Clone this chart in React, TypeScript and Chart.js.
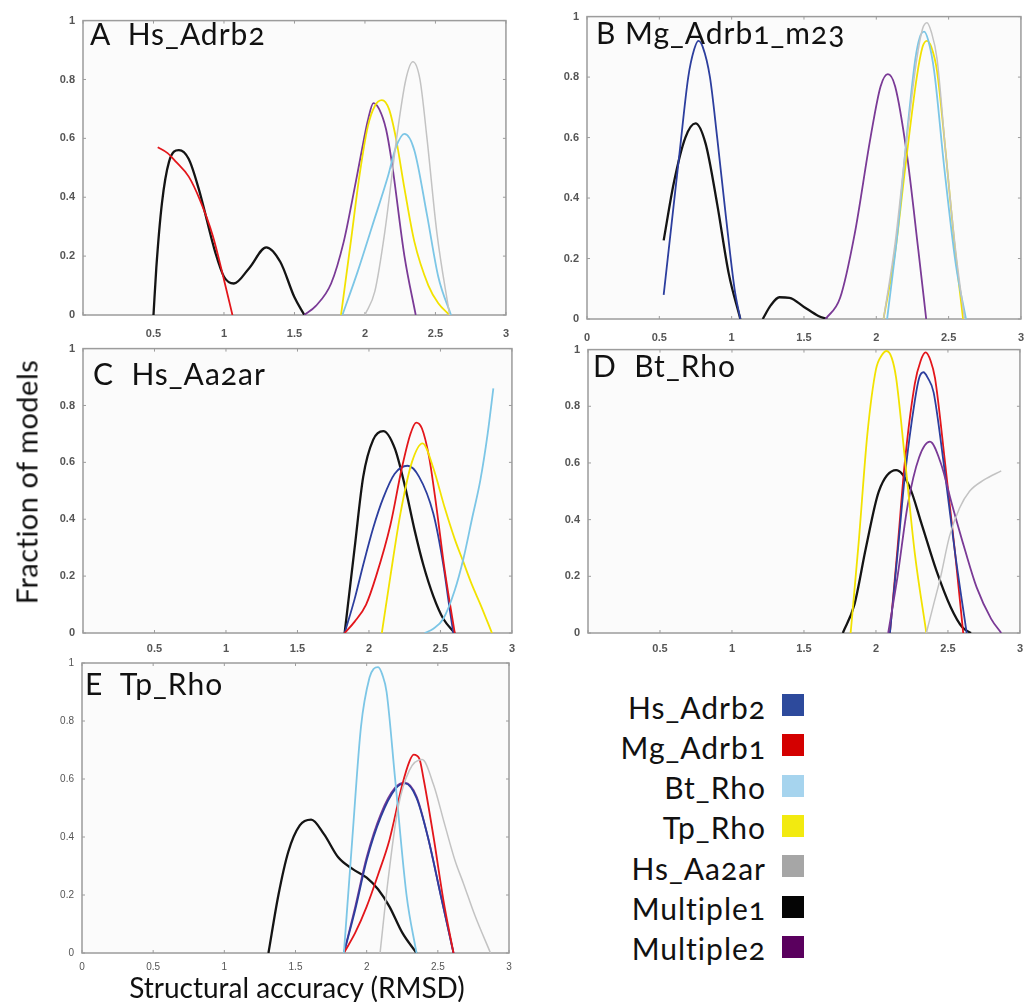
import React, { useEffect, useRef } from 'react';
import { Chart, registerables } from 'chart.js';
Chart.register(...registerables);

// ---------- axis ticks ----------
const X_TICKS = [0, 0.5, 1, 1.5, 2, 2.5, 3];
const Y_TICKS = [0, 0.2, 0.4, 0.6, 0.8, 1];

// ---------- series legend ----------
const SERIES_NAMES = ['Hs_Adrb2', 'Mg_Adrb1', 'Bt_Rho', 'Tp_Rho', 'Hs_Aa2ar', 'Multiple1', 'Multiple2'];
const LINE_COLORS = ['#2c3e9e', '#e3161b', '#7cc6e6', '#f2e200', '#c3c3c3', '#141414', '#7a3a96'];
const LEGEND_COLORS = ['#2d4a9c', '#d40000', '#a6d4ee', '#f2ea10', '#a6a6a6', '#050505', '#5a005e'];

// ---------- Panel A: Hs_Adrb2 ----------
const A_RED_X = [0.53, 0.6, 0.66, 0.75, 0.83, 0.92, 1.0, 1.06];
const A_RED_Y = [0.57, 0.55, 0.52, 0.47, 0.39, 0.27, 0.12, 0];
const A_BLACK_X = [0.5, 0.52, 0.56, 0.61, 0.68, 0.75, 0.82, 0.94, 1.0, 1.07, 1.18, 1.3, 1.4, 1.5, 1.57];
const A_BLACK_Y = [0, 0.16, 0.38, 0.52, 0.56, 0.53, 0.43, 0.21, 0.13, 0.107, 0.16, 0.23, 0.18, 0.06, 0];
const A_PURPLE_X = [1.57, 1.65, 1.76, 1.85, 1.91, 1.97, 2.02, 2.06, 2.1, 2.15, 2.19, 2.28, 2.36];
const A_PURPLE_Y = [0, 0.03, 0.107, 0.25, 0.39, 0.54, 0.66, 0.72, 0.7, 0.63, 0.52, 0.2, 0];
const A_YELLOW_X = [1.83, 1.9, 1.96, 2.02, 2.07, 2.12, 2.17, 2.22, 2.28, 2.35, 2.45, 2.52, 2.6];
const A_YELLOW_Y = [0, 0.25, 0.47, 0.64, 0.71, 0.73, 0.7, 0.6, 0.43, 0.25, 0.1, 0.04, 0];
const A_LBLUE_X = [1.84, 1.95, 2.05, 2.16, 2.22, 2.28, 2.35, 2.44, 2.52, 2.61];
const A_LBLUE_Y = [0, 0.15, 0.3, 0.466, 0.57, 0.615, 0.56, 0.34, 0.13, 0];
const A_GRAY_X = [2.0, 2.07, 2.14, 2.23, 2.29, 2.34, 2.39, 2.44, 2.51, 2.6];
const A_GRAY_Y = [0, 0.08, 0.28, 0.62, 0.8, 0.86, 0.8, 0.6, 0.28, 0];

// ---------- Panel B: Mg_Adrb1_m23 ----------
const B_BLUE_X = [0.53, 0.6, 0.64, 0.7, 0.74, 0.77, 0.8, 0.85, 0.9, 0.96, 1.02, 1.06];
const B_BLUE_Y = [0.08, 0.38, 0.55, 0.8, 0.89, 0.92, 0.9, 0.8, 0.6, 0.34, 0.1, 0];
const B_BLACK_X = [0.53, 0.6, 0.68, 0.75, 0.82, 0.9, 0.98, 1.06, 1.14, 1.215, 1.27, 1.33, 1.4, 1.5, 1.6, 1.66];
const B_BLACK_Y = [0.26, 0.45, 0.6, 0.647, 0.58, 0.38, 0.15, 0, null, 0, 0.045, 0.072, 0.07, 0.04, 0.01, 0];
const B_PURPLE_X = [1.65, 1.75, 1.85, 1.96, 2.03, 2.08, 2.13, 2.21, 2.29, 2.345];
const B_PURPLE_Y = [0, 0.07, 0.28, 0.6, 0.77, 0.81, 0.77, 0.55, 0.23, 0];
const B_GRAY_X = [2.05, 2.13, 2.2, 2.28, 2.32, 2.35, 2.38, 2.42, 2.48, 2.55, 2.61];
const B_GRAY_Y = [0, 0.25, 0.55, 0.86, 0.96, 0.98, 0.95, 0.86, 0.55, 0.22, 0];
const B_LBLUE_X = [2.075, 2.15, 2.22, 2.27, 2.3, 2.33, 2.36, 2.4, 2.47, 2.55, 2.62];
const B_LBLUE_Y = [0, 0.3, 0.65, 0.86, 0.93, 0.95, 0.92, 0.82, 0.5, 0.18, 0];
const B_YELLOW_X = [2.05, 2.13, 2.2, 2.28, 2.32, 2.35, 2.38, 2.42, 2.48, 2.54, 2.6];
const B_YELLOW_Y = [0, 0.22, 0.5, 0.8, 0.9, 0.92, 0.9, 0.82, 0.55, 0.25, 0];

// ---------- Panel C: Hs_Aa2ar ----------
const C_BLACK_X = [1.83, 1.9, 1.96, 2.03, 2.1, 2.18, 2.25, 2.32, 2.38, 2.45, 2.52, 2.6];
const C_BLACK_Y = [0, 0.3, 0.55, 0.68, 0.71, 0.65, 0.52, 0.36, 0.24, 0.13, 0.05, 0];
const C_BLUE_X = [1.83, 1.9, 1.96, 2.03, 2.1, 2.18, 2.27, 2.35, 2.45, 2.52, 2.56, 2.59];
const C_BLUE_Y = [0, 0.12, 0.24, 0.37, 0.475, 0.56, 0.588, 0.55, 0.42, 0.24, 0.1, 0];
const C_RED_X = [1.83, 1.9, 1.98, 2.05, 2.15, 2.23, 2.29, 2.33, 2.37, 2.42, 2.47, 2.53, 2.6];
const C_RED_Y = [0, 0.04, 0.1, 0.2, 0.38, 0.58, 0.7, 0.74, 0.72, 0.62, 0.45, 0.22, 0];
const C_YELLOW_X = [2.09, 2.15, 2.22, 2.3, 2.375, 2.45, 2.53, 2.6, 2.66, 2.72, 2.78, 2.86];
const C_YELLOW_Y = [0, 0.2, 0.42, 0.6, 0.667, 0.58, 0.44, 0.33, 0.25, 0.17, 0.1, 0];
const C_LBLUE_X = [2.39, 2.45, 2.52, 2.6, 2.66, 2.72, 2.78, 2.83, 2.87];
const C_LBLUE_Y = [0, 0.015, 0.05, 0.15, 0.26, 0.4, 0.54, 0.7, 0.86];

// ---------- Panel D: Bt_Rho ----------
const D_YELLOW_X = [1.824, 1.88, 1.94, 2.0, 2.04, 2.074, 2.11, 2.14, 2.2, 2.27, 2.35];
const D_YELLOW_Y = [0, 0.32, 0.7, 0.93, 0.98, 0.995, 0.97, 0.9, 0.62, 0.28, 0];
const D_RED_X = [2.097, 2.15, 2.2, 2.27, 2.31, 2.345, 2.38, 2.41, 2.48, 2.55, 2.606];
const D_RED_Y = [0, 0.3, 0.6, 0.88, 0.96, 0.99, 0.96, 0.9, 0.6, 0.28, 0];
const D_BLUE_X = [2.097, 2.15, 2.2, 2.27, 2.3, 2.33, 2.36, 2.4, 2.47, 2.55, 2.63];
const D_BLUE_Y = [0, 0.28, 0.55, 0.82, 0.9, 0.92, 0.9, 0.85, 0.6, 0.28, 0];
const D_PURPLE_X = [2.085, 2.15, 2.22, 2.3, 2.375, 2.45, 2.53, 2.62, 2.7, 2.8, 2.87];
const D_PURPLE_Y = [0, 0.2, 0.45, 0.62, 0.675, 0.6, 0.45, 0.29, 0.16, 0.05, 0];
const D_BLACK_X = [1.77, 1.85, 1.93, 2.02, 2.14, 2.23, 2.32, 2.42, 2.52, 2.6, 2.66];
const D_BLACK_Y = [0, 0.1, 0.3, 0.5, 0.575, 0.52, 0.38, 0.22, 0.09, 0.02, 0];
const D_GRAY_X = [2.35, 2.4, 2.45, 2.51, 2.58, 2.65, 2.75, 2.87];
const D_GRAY_Y = [0, 0.1, 0.2, 0.34, 0.44, 0.5, 0.54, 0.572];

// ---------- Panel E: Tp_Rho ----------
const E_BLACK_X = [1.31, 1.38, 1.45, 1.53, 1.61, 1.7, 1.8, 1.9, 2.0, 2.08, 2.16, 2.25, 2.35];
const E_BLACK_Y = [0, 0.2, 0.35, 0.44, 0.46, 0.41, 0.33, 0.29, 0.26, 0.22, 0.16, 0.07, 0];
const E_LBLUE_X = [1.84, 1.9, 1.96, 2.02, 2.05, 2.08, 2.11, 2.14, 2.2, 2.28, 2.35];
const E_LBLUE_Y = [0, 0.4, 0.78, 0.95, 0.98, 0.986, 0.96, 0.9, 0.6, 0.2, 0];
const E_RED_X = [1.84, 1.92, 2.0, 2.08, 2.16, 2.25, 2.3, 2.33, 2.37, 2.4, 2.47, 2.54, 2.61];
const E_RED_Y = [0, 0.07, 0.16, 0.27, 0.39, 0.58, 0.66, 0.684, 0.67, 0.6, 0.4, 0.18, 0];
const E_BLUE_X = [1.84, 1.92, 2.0, 2.1, 2.2, 2.27, 2.35, 2.43, 2.52, 2.61];
const E_BLUE_Y = [0, 0.15, 0.32, 0.47, 0.565, 0.585, 0.535, 0.4, 0.2, 0];
const E_PURPLE_X = [1.84, 1.92, 2.0, 2.1, 2.2, 2.27, 2.35, 2.43, 2.52, 2.61];
const E_PURPLE_Y = [0, 0.16, 0.33, 0.48, 0.57, 0.587, 0.54, 0.4, 0.2, 0];
const E_GRAY_X = [2.094, 2.15, 2.22, 2.3, 2.39, 2.47, 2.55, 2.62, 2.68, 2.76, 2.87];
const E_GRAY_Y = [0, 0.25, 0.5, 0.63, 0.667, 0.58, 0.44, 0.32, 0.24, 0.13, 0];

type Series = { idx: number; x: number[]; y: (number | null)[] };
type PanelDef = {
  title: string;
  rect: { l: number; t: number; r: number; b: number };
  titlePos: { left: number; top: number };
  showZero: boolean;
  labelPad: number;
  tickFont: { size: number; weight: string };
  series: Series[];
};

const BIG_TICKS = { size: 11, weight: 'bold' };
const SMALL_TICKS = { size: 10, weight: 'normal' };

const PANELS: PanelDef[] = [
  {
    title: 'A  Hs_Adrb2', rect: { l: 83, t: 18, r: 509, b: 315 }, titlePos: { left: 90, top: 18 }, showZero: false, labelPad: 12, tickFont: BIG_TICKS,
    series: [
      { idx: 1, x: A_RED_X, y: A_RED_Y },
      { idx: 4, x: A_GRAY_X, y: A_GRAY_Y },
      { idx: 2, x: A_LBLUE_X, y: A_LBLUE_Y },
      { idx: 3, x: A_YELLOW_X, y: A_YELLOW_Y },
      { idx: 6, x: A_PURPLE_X, y: A_PURPLE_Y },
      { idx: 5, x: A_BLACK_X, y: A_BLACK_Y },
    ],
  },
  {
    title: 'B Mg_Adrb1_m23', rect: { l: 587, t: 14, r: 1024, b: 319 }, titlePos: { left: 596, top: 17 }, showZero: true, labelPad: 12, tickFont: BIG_TICKS,
    series: [
      { idx: 4, x: B_GRAY_X, y: B_GRAY_Y },
      { idx: 2, x: B_LBLUE_X, y: B_LBLUE_Y },
      { idx: 3, x: B_YELLOW_X, y: B_YELLOW_Y },
      { idx: 6, x: B_PURPLE_X, y: B_PURPLE_Y },
      { idx: 0, x: B_BLUE_X, y: B_BLUE_Y },
      { idx: 5, x: B_BLACK_X, y: B_BLACK_Y },
    ],
  },
  {
    title: 'C  Hs_Aa2ar', rect: { l: 83, t: 346, r: 512, b: 633 }, titlePos: { left: 93, top: 358 }, showZero: false, labelPad: 9, tickFont: BIG_TICKS,
    series: [
      { idx: 2, x: C_LBLUE_X, y: C_LBLUE_Y },
      { idx: 3, x: C_YELLOW_X, y: C_YELLOW_Y },
      { idx: 1, x: C_RED_X, y: C_RED_Y },
      { idx: 0, x: C_BLUE_X, y: C_BLUE_Y },
      { idx: 5, x: C_BLACK_X, y: C_BLACK_Y },
    ],
  },
  {
    title: 'D  Bt_Rho', rect: { l: 588, t: 347, r: 1020, b: 633 }, titlePos: { left: 593, top: 350 }, showZero: false, labelPad: 9, tickFont: BIG_TICKS,
    series: [
      { idx: 4, x: D_GRAY_X, y: D_GRAY_Y },
      { idx: 3, x: D_YELLOW_X, y: D_YELLOW_Y },
      { idx: 6, x: D_PURPLE_X, y: D_PURPLE_Y },
      { idx: 0, x: D_BLUE_X, y: D_BLUE_Y },
      { idx: 1, x: D_RED_X, y: D_RED_Y },
      { idx: 5, x: D_BLACK_X, y: D_BLACK_Y },
    ],
  },
  {
    title: 'E  Tp_Rho', rect: { l: 82, t: 661, r: 509, b: 953 }, titlePos: { left: 85, top: 668 }, showZero: true, labelPad: 8, tickFont: SMALL_TICKS,
    series: [
      { idx: 4, x: E_GRAY_X, y: E_GRAY_Y },
      { idx: 2, x: E_LBLUE_X, y: E_LBLUE_Y },
      { idx: 1, x: E_RED_X, y: E_RED_Y },
      { idx: 0, x: E_BLUE_X, y: E_BLUE_Y },
      { idx: 6, x: E_PURPLE_X, y: E_PURPLE_Y },
      { idx: 5, x: E_BLACK_X, y: E_BLACK_Y },
    ],
  },
];

const PAD_L = 50, PAD_T = 12, PAD_R = 12, PAD_B = 30;

const framePlugin = {
  id: 'frame',
  beforeDatasetsDraw(chart: any) {
    const { ctx, chartArea, scales } = chart;
    const { left, top, right, bottom } = chartArea;
    ctx.save();
    ctx.fillStyle = '#fbfbfb';
    ctx.fillRect(left, top, right - left, bottom - top);
    ctx.strokeStyle = '#9c9c9c';
    ctx.lineWidth = 1.5;
    ctx.strokeRect(left, top, right - left, bottom - top);
    ctx.lineWidth = 1;
    ctx.beginPath();
    X_TICKS.forEach((v) => {
      const px = scales.x.getPixelForValue(v);
      ctx.moveTo(px, bottom); ctx.lineTo(px, bottom - 3);
      ctx.moveTo(px, top); ctx.lineTo(px, top + 3);
    });
    Y_TICKS.forEach((v) => {
      const py = scales.y.getPixelForValue(v);
      ctx.moveTo(left, py); ctx.lineTo(left + 3, py);
      ctx.moveTo(right, py); ctx.lineTo(right - 3, py);
    });
    ctx.stroke();
    ctx.restore();
  },
};

function Panel({ def }: { def: PanelDef }) {
  const ref = useRef<HTMLCanvasElement>(null);
  const { rect } = def;
  const w = rect.r - rect.l + PAD_L + PAD_R;
  const h = rect.b - rect.t + PAD_T + PAD_B;
  useEffect(() => {
    const tickFont = { family: 'Liberation Sans', size: def.tickFont.size, weight: def.tickFont.weight };
    const chart = new Chart(ref.current!, {
      type: 'line',
      data: {
        datasets: def.series.map((s) => ({
          label: SERIES_NAMES[s.idx],
          data: s.x.map((x, i) => ({ x, y: s.y[i] })),
          borderColor: LINE_COLORS[s.idx],
          borderWidth: s.idx === 5 ? 2.3 : s.idx === 4 ? 1.5 : 1.8,
          pointRadius: 0,
          cubicInterpolationMode: 'monotone',
          fill: false,
          spanGaps: false,
        })) as any,
      },
      options: {
        responsive: false,
        animation: false,
        layout: { padding: { top: PAD_T, right: PAD_R, left: 0, bottom: 0 } },
        plugins: { legend: { display: false }, tooltip: { enabled: false } },
        scales: {
          x: {
            type: 'linear', min: 0, max: 3,
            afterBuildTicks: (s: any) => { s.ticks = X_TICKS.map((v) => ({ value: v })); },
            afterFit: (s: any) => { s.height = PAD_B; },
            grid: { display: false, drawTicks: false },
            border: { display: false },
            ticks: {
              padding: def.labelPad, maxRotation: 0, autoSkip: false, color: '#555',
              font: tickFont,
              callback: (v: any) => (Number(v) === 0 && !def.showZero ? '' : String(Number(v))),
            },
          },
          y: {
            type: 'linear', min: 0, max: 1,
            afterBuildTicks: (s: any) => { s.ticks = Y_TICKS.map((v) => ({ value: v })); },
            afterFit: (s: any) => { s.width = PAD_L; },
            grid: { display: false, drawTicks: false },
            border: { display: false },
            ticks: {
              padding: 8, color: '#555',
              font: tickFont,
              callback: (v: any) => { const n = Number(v); return n === 0 || n === 1 ? String(n) : n.toFixed(1); },
            },
          },
        },
      } as any,
      plugins: [framePlugin],
    });
    return () => chart.destroy();
  }, []);
  return (
    <canvas
      ref={ref}
      width={w}
      height={h}
      style={{ position: 'absolute', left: rect.l - PAD_L, top: rect.t - PAD_T, width: w, height: h }}
    />
  );
}

const FONT = 'Lato, "Open Sans", sans-serif';

export default function App() {
  return (
    <div style={{ position: 'absolute', left: 0, top: 0, width: 1026, height: 1002, overflow: 'hidden', background: '#fff', fontFamily: FONT }}>
      {PANELS.map((p) => <Panel key={p.title} def={p} />)}
      {PANELS.map((p) => (
        <div key={'t' + p.title} style={{ position: 'absolute', left: p.titlePos.left, top: p.titlePos.top, fontSize: 30, lineHeight: '30px', letterSpacing: 1, whiteSpace: 'pre', color: '#111', fontVariantNumeric: 'oldstyle-nums' }}>
          {p.title}
        </div>
      ))}
      <div style={{ position: 'absolute', left: 26, top: 482, transform: 'translate(-50%, -50%) rotate(-90deg)', fontSize: 29, letterSpacing: 0.5, whiteSpace: 'nowrap', color: '#111' }}>
        Fraction of models
      </div>
      <div style={{ position: 'absolute', left: 297, top: 987, transform: 'translate(-50%, -50%)', fontSize: 28, whiteSpace: 'nowrap', color: '#111' }}>
        Structural accuracy (RMSD)
      </div>
      {SERIES_NAMES.map((n, i) => (
        <React.Fragment key={n}>
          <div style={{ position: 'absolute', right: 1026 - 766, top: 691.5 + 40.3 * i, fontSize: 30, lineHeight: '30px', letterSpacing: 1, whiteSpace: 'nowrap', color: '#111', fontVariantNumeric: 'oldstyle-nums' }}>
            {n}
          </div>
          <div style={{ position: 'absolute', left: 782, top: 694 + 40.3 * i, width: 22, height: 22, background: LEGEND_COLORS[i] }} />
        </React.Fragment>
      ))}
    </div>
  );
}
